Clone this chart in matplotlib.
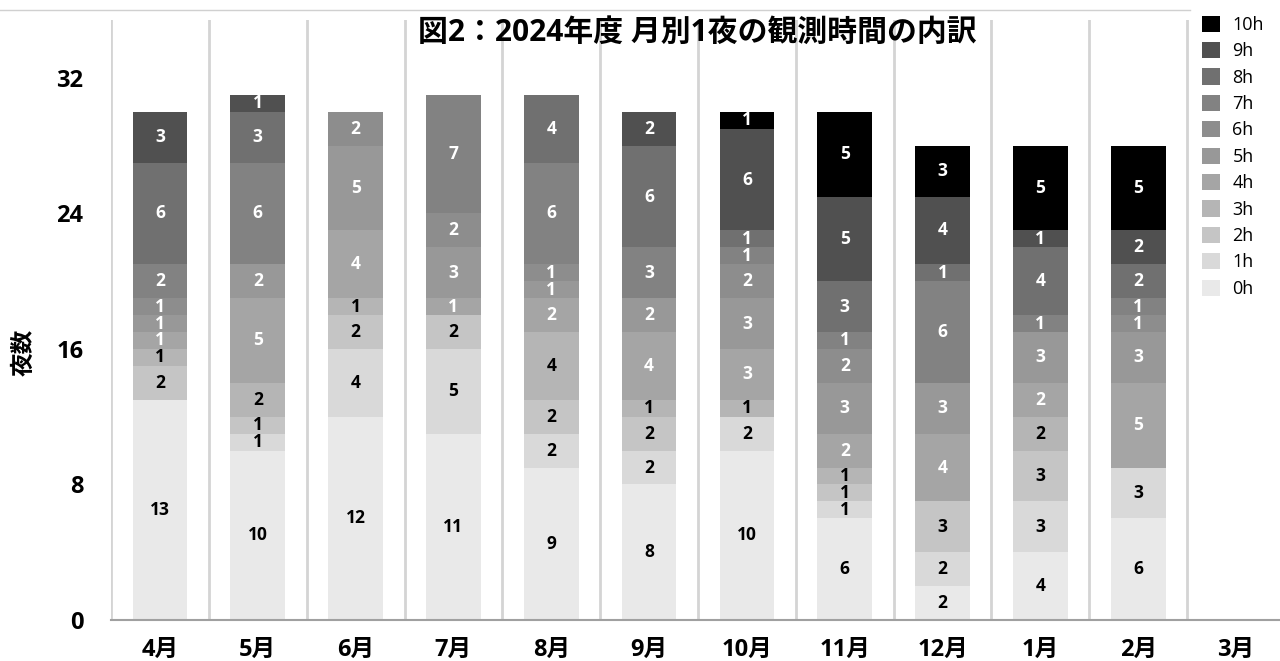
import matplotlib
matplotlib.use("Agg")
import matplotlib.pyplot as plt
import numpy as np

plt.rcParams['font.family'] = ['Open Sans', 'Noto Sans CJK JP', 'DejaVu Sans']

months = ['4月', '5月', '6月', '7月', '8月', '9月', '10月', '11月', '12月', '1月', '2月', '3月']
hours = ['0h', '1h', '2h', '3h', '4h', '5h', '6h', '7h', '8h', '9h', '10h']

# 各月の夜数（観測時間ごと）
h0 = [13, 10, 12, 11, 9, 8, 10, 6, 2, 4, 6, 0]
h1 = [0, 1, 4, 5, 2, 2, 2, 1, 2, 3, 3, 0]
h2 = [2, 1, 2, 2, 2, 2, 0, 1, 3, 3, 0, 0]
h3 = [1, 2, 1, 0, 4, 1, 1, 1, 0, 2, 0, 0]
h4 = [1, 5, 4, 1, 2, 4, 3, 2, 4, 2, 5, 0]
h5 = [1, 2, 5, 3, 1, 2, 3, 3, 3, 3, 3, 0]
h6 = [1, 0, 2, 2, 1, 0, 2, 2, 0, 0, 1, 0]
h7 = [2, 6, 0, 7, 6, 3, 1, 1, 6, 1, 1, 0]
h8 = [6, 3, 0, 0, 4, 6, 1, 3, 1, 4, 2, 0]
h9 = [3, 1, 0, 0, 0, 2, 6, 5, 4, 1, 2, 0]
h10 = [0, 0, 0, 0, 0, 0, 1, 5, 3, 5, 5, 0]
series = [h0, h1, h2, h3, h4, h5, h6, h7, h8, h9, h10]

colors = ['#e9e9e9', '#d9d9d9', '#c5c5c5', '#b5b5b5', '#a5a5a5', '#989898',
          '#8d8d8d', '#828282', '#707070', '#505050', '#000000']

fig = plt.figure(figsize=(12.8, 6.61), dpi=100)
ax = fig.add_axes([111 / 1280, 41 / 661, 1174 / 1280, 600 / 661])

x = np.arange(len(months))
bottom = np.zeros(len(months))
for i, vals in enumerate(series):
    vals = np.array(vals)
    ax.bar(x, vals, width=0.56, bottom=bottom, color=colors[i],
           label=hours[i], zorder=2)
    tc = 'black' if i < 4 else 'white'
    for xi, v, bt in zip(x, vals, bottom):
        if v > 0:
            ax.text(xi, bt + v / 2, str(v), ha='center', va='center',
                    fontsize=12.5, fontweight='bold', color=tc, zorder=3)
    bottom = bottom + vals

# 区切り線
for k in range(len(months) + 1):
    ax.axvline(k - 0.5, color='#d4d4d4', lw=2, zorder=1)

ax.set_xlim(-0.5, len(months) - 0.5)
ax.set_ylim(0, 35.42)
ax.set_yticks([0, 8, 16, 24, 32])
ax.set_xticks(x)
ax.set_xticklabels(months)
for s in ['top', 'right', 'left']:
    ax.spines[s].set_visible(False)
ax.spines['bottom'].set_color('#a0a0a0')
ax.spines['bottom'].set_linewidth(1.5)
ax.tick_params(axis='y', length=0, pad=20, labelsize=17)
ax.tick_params(axis='x', length=0, pad=13, labelsize=17)
for lab in ax.get_xticklabels() + ax.get_yticklabels():
    lab.set_fontweight('bold')

fig.text(25 / 1280, 1 - 352 / 661, '夜数', rotation=90, ha='center', va='center',
         fontsize=17, fontweight='bold')
fig.text(697 / 1280, 1 - 33 / 661, '図2：2024年度 月別1夜の観測時間の内訳',
         ha='center', va='center', fontsize=21.5, fontweight='bold')

# 上の枠線
fig.add_artist(plt.Line2D([0, 1190 / 1280], [1 - 10 / 661, 1 - 10 / 661],
                          color='#d0d0d0', lw=1))

handles, labels = ax.get_legend_handles_labels()
fig.legend(handles[::-1], labels[::-1], loc='upper left',
           bbox_to_anchor=(1189 / 1280, 1 - 3 / 661), frameon=False,
           fontsize=13, handlelength=1.0, handleheight=1.0,
           labelspacing=0.45, handletextpad=0.7, borderpad=0.2)

fig.savefig('out.png', dpi=100)
